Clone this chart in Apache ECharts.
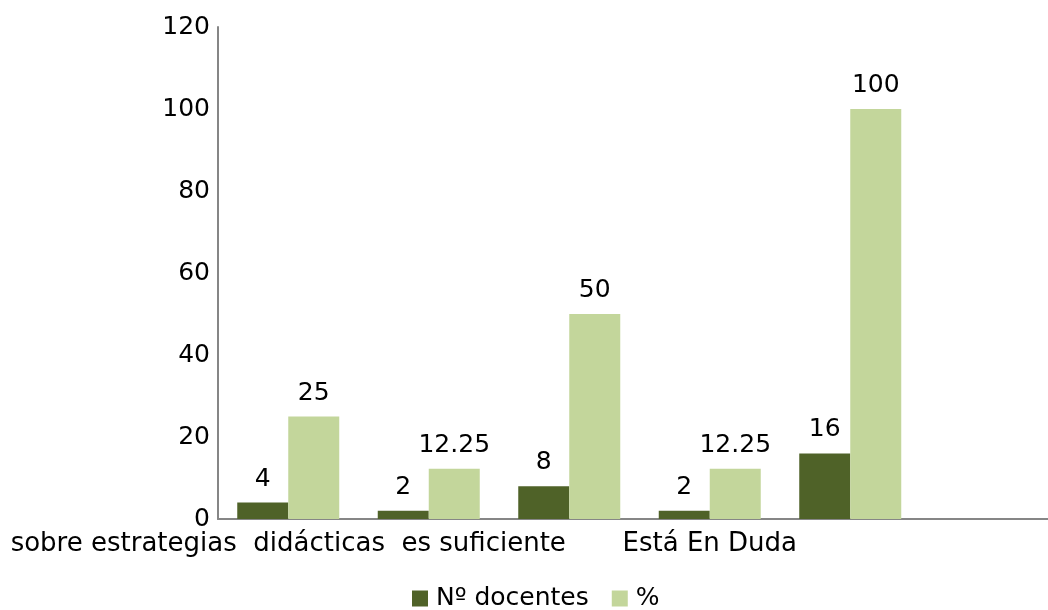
<!DOCTYPE html>
<html>
<head>
<meta charset="utf-8">
<script src="https://cdn.jsdelivr.net/npm/echarts@6/dist/echarts.min.js"></script>
<style>html,body{margin:0;padding:0;background:#fff;overflow:hidden}#chart{width:1061px;height:610px}</style>
</head>
<body>
<div id="chart"></div>
<script>
var categories = ['cat1', 'cat2', 'cat3', 'cat4', 'cat5', 'cat6'];
var tickLabels = ['sobre estrategias  didácticas  es suficiente', '', '', 'Está En Duda', '', ''];
var docentes = [4, 2, 8, 2, 16, null];
var porcentaje = [25, 12.25, 50, 12.25, 100, null];

var font = 'DejaVu Sans';
var chart = echarts.init(document.getElementById('chart'), null, {renderer: 'canvas'});
var labelStyle = {show: true, position: 'top', distance: 11, color: '#000', fontSize: 25, fontFamily: font};
chart.setOption({
    animation: false,
    textStyle: {fontFamily: font},
    grid: {left: 218, top: 27, bottom: 91, right: 0, containLabel: false},
    legend: {
        bottom: -6, left: 407, itemWidth: 16, itemHeight: 16, itemGap: 23,
        icon: 'rect',
        textStyle: {fontSize: 25, fontFamily: font, color: '#000', padding: [0, 0, 0, 3]},
        data: ['Nº docentes', '%']
    },
    xAxis: {
        type: 'category',
        data: categories,
        axisLine: {lineStyle: {color: '#868686', width: 2}},
        axisTick: {show: false},
        axisLabel: {
            interval: 0, margin: 12, fontSize: 26, fontFamily: font, color: '#000',
            formatter: function (v, i) { return tickLabels[i]; }
        }
    },
    yAxis: {
        type: 'value', min: 0, max: 120, interval: 20,
        axisLine: {show: true, lineStyle: {color: '#868686', width: 2}},
        axisTick: {show: false},
        splitLine: {show: false},
        axisLabel: {margin: 8, fontSize: 25, fontFamily: font, color: '#000'}
    },
    series: [
        {name: 'Nº docentes', type: 'bar', data: docentes, barWidth: 51, barGap: '0%',
         itemStyle: {color: '#4f6228'}, label: labelStyle},
        {name: '%', type: 'bar', data: porcentaje, barWidth: 51,
         itemStyle: {color: '#c3d69b'}, label: labelStyle}
    ]
});
</script>
</body>
</html>
